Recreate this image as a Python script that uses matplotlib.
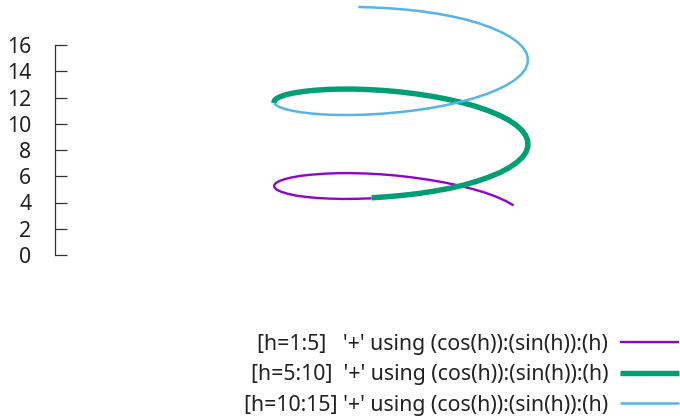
from matplotlib import pyplot as plt

plt.rcParams['font.family'] = ['Noto Sans', 'DejaVu Sans']

# projected helix, horizontal position (-1..1) and height on the z axis
x1 = [.887, .822, .745, .656, .557, .449, .334, .214, .091, -.034, -.159, -.281, -.398, -.509, -.613, -.707, -.791,
      -.861, -.917, -.959, -.987, -.999, -.996, -.978, -.944, -.893, -.829, -.754, -.668, -.570, -.463, -.350, -.231]
z1 = [3.78, 4.13, 4.46, 4.77, 5.05, 5.31, 5.54, 5.74, 5.91, 6.05, 6.15, 6.21, 6.24, 6.23, 6.19, 6.12, 6.03,
      5.91, 5.78, 5.63, 5.47, 5.31, 5.14, 4.98, 4.82, 4.67, 4.53, 4.43, 4.35, 4.30, 4.27, 4.28, 4.32]

x2 = [-.231, -.107, .018, .142, .264, .382, .495, .599, .694, .779, .851, .910, .955, .985, .999, .998, .981,
      .949, .902, .841, .767, .681, .584, .478, .365, .246, .124, -.001, -.126, -.248, -.367, -.480, -.586,
      -.682, -.768, -.842, -.903, -.949, -.981, -.998, -.999]
z2 = [4.36, 4.44, 4.55, 4.69, 4.87, 5.08, 5.33, 5.62, 5.94, 6.28, 6.65, 7.04, 7.44, 7.85, 8.27, 8.70, 9.12,
      9.53, 9.93, 10.32, 10.68, 11.02, 11.34, 11.62, 11.87, 12.09, 12.27, 12.42, 12.53, 12.60, 12.64, 12.64, 12.61,
      12.55, 12.46, 12.35, 12.22, 12.07, 11.91, 11.75, 11.58]

x3 = [-.999, -.984, -.954, -.909, -.850, -.778, -.693, -.598, -.493, -.380, -.262, -.140, -.016, .109, .233, .352, .466,
      .572, .670, .757, .833, .895, .944, .978, .996, .999, .987, .959, .916, .859, .788, .705, .611, .507, .396,
      .279, .157, .032, -.093, -.216, -.336]
z3 = [11.58, 11.42, 11.26, 11.11, 10.98, 10.86, 10.77, 10.70, 10.67, 10.67, 10.70, 10.77, 10.88, 11.02, 11.20, 11.41, 11.66,
      11.94, 12.25, 12.59, 12.95, 13.33, 13.73, 14.14, 14.56, 14.99, 15.41, 15.83, 16.23, 16.62, 16.99, 17.34, 17.66, 17.95, 18.19,
      18.40, 18.57, 18.70, 18.80, 18.86, 18.90]

labels = ["[h=1:5]   '+' using (cos(h)):(sin(h)):(h)",
          "[h=5:10]  '+' using (cos(h)):(sin(h)):(h)",
          "[h=10:15] '+' using (cos(h)):(sin(h)):(h)"]
ztick = [0, 2, 4, 6, 8, 10, 12, 14, 16]

fig = plt.figure(figsize=(6.8, 4.16), dpi=100)
ax = fig.add_axes([55 / 680, 161 / 416, 600 / 680, 210 / 416])

ax.plot(x1, z1, color='#9400d3', lw=1.7, clip_on=False, solid_capstyle='butt', label=labels[0])
ax.plot(x2, z2, color='#009e73', lw=3.9, clip_on=False, solid_capstyle='butt', label=labels[1])
ax.plot(x3, z3, color='#56b4e9', lw=1.8, clip_on=False, solid_capstyle='butt', label=labels[2])

ax.set_xlim(-2.724, 2.0)
ax.set_ylim(0, 16)
ax.set_xticks([])
ax.set_yticks(ztick)
ax.tick_params(axis='y', direction='in', length=8.6, width=0.9, pad=17, labelsize=15.3, color='#333333', labelcolor='#222222')
for s in ['top', 'right', 'bottom']:
    ax.spines[s].set_visible(False)
ax.spines['left'].set_linewidth(0.9)
ax.spines['left'].set_color('#333333')
ax.patch.set_visible(False)

ax.legend(loc='lower right', bbox_to_anchor=(681 / 680, -2 / 416), bbox_transform=fig.transFigure,
          frameon=False, borderpad=0.1, borderaxespad=0, fontsize=15.35, handlelength=2.77, markerfirst=False,
          handletextpad=0.55, labelspacing=0.45, labelcolor='#222222')

fig.savefig('out.png', dpi=100)
